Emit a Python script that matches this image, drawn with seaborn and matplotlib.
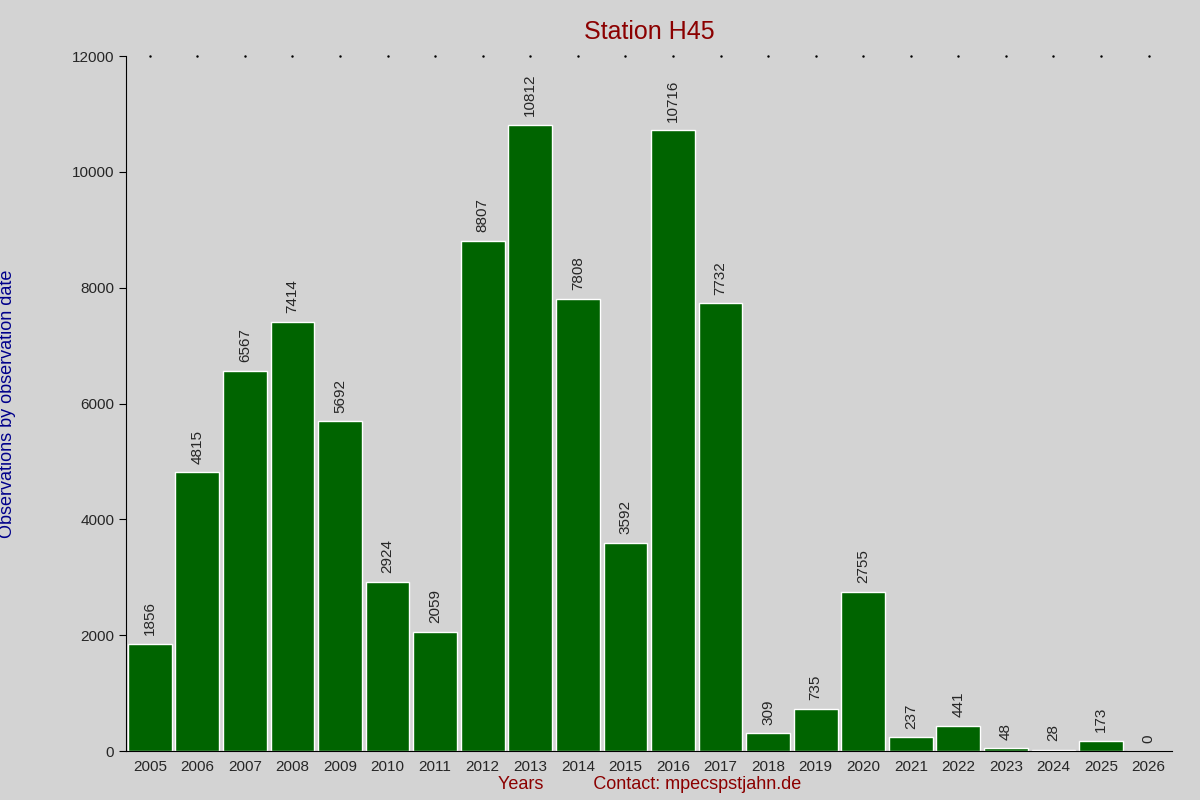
import matplotlib
matplotlib.use("Agg")
import matplotlib.pyplot as plt
import seaborn as sns
import pandas as pd

years = [str(y) for y in range(2005, 2027)]
counts = [1856, 4815, 6567, 7414, 5692, 2924, 2059, 8807, 10812, 7808, 3592,
          10716, 7732, 309, 735, 2755, 237, 441, 48, 28, 173, 0]

sns.set_style("ticks")
plt.rcParams['font.family'] = ['Liberation Sans', 'DejaVu Sans']

df = pd.DataFrame({"Year": years, "Count": counts})

fig = plt.figure(figsize=(12, 8), dpi=100, facecolor="#d3d3d3")
ax = fig.add_axes([0.105, 0.061, 0.872, 0.869])
ax.set_facecolor("#d3d3d3")
sns.barplot(data=df, x="Year", y="Count", color="#006400", width=0.92,
            saturation=1, ax=ax)

for i, v in enumerate(counts):
    ax.text(i, v + 150, str(v), rotation=90, ha="center", va="bottom", fontsize=11)
    ax.plot(i, 12000, marker=".", markersize=1.5, color="black", clip_on=False)

ax.set_xlim(-0.5, 21.5)
ax.set_ylim(0, 12000)
ax.set_yticks(range(0, 12001, 2000))
ax.tick_params(axis="both", labelsize=11, length=5, color="black")
ax.tick_params(axis="x", length=0, pad=6)
for s in ["top", "right"]:
    ax.spines[s].set_visible(False)
ax.spines["left"].set_color("black")
ax.spines["bottom"].set_color("black")

ax.set_title("Station H45", color="#8b0000", fontsize=18, pad=12)
ax.set_ylabel("Observations by observation date", color="#00008b", fontsize=13, labelpad=40)
ax.set_xlabel("Years          Contact: mpecspstjahn.de", color="#8b0000", fontsize=13, labelpad=2)

fig.savefig("out.png", dpi=100, facecolor=fig.get_facecolor())
